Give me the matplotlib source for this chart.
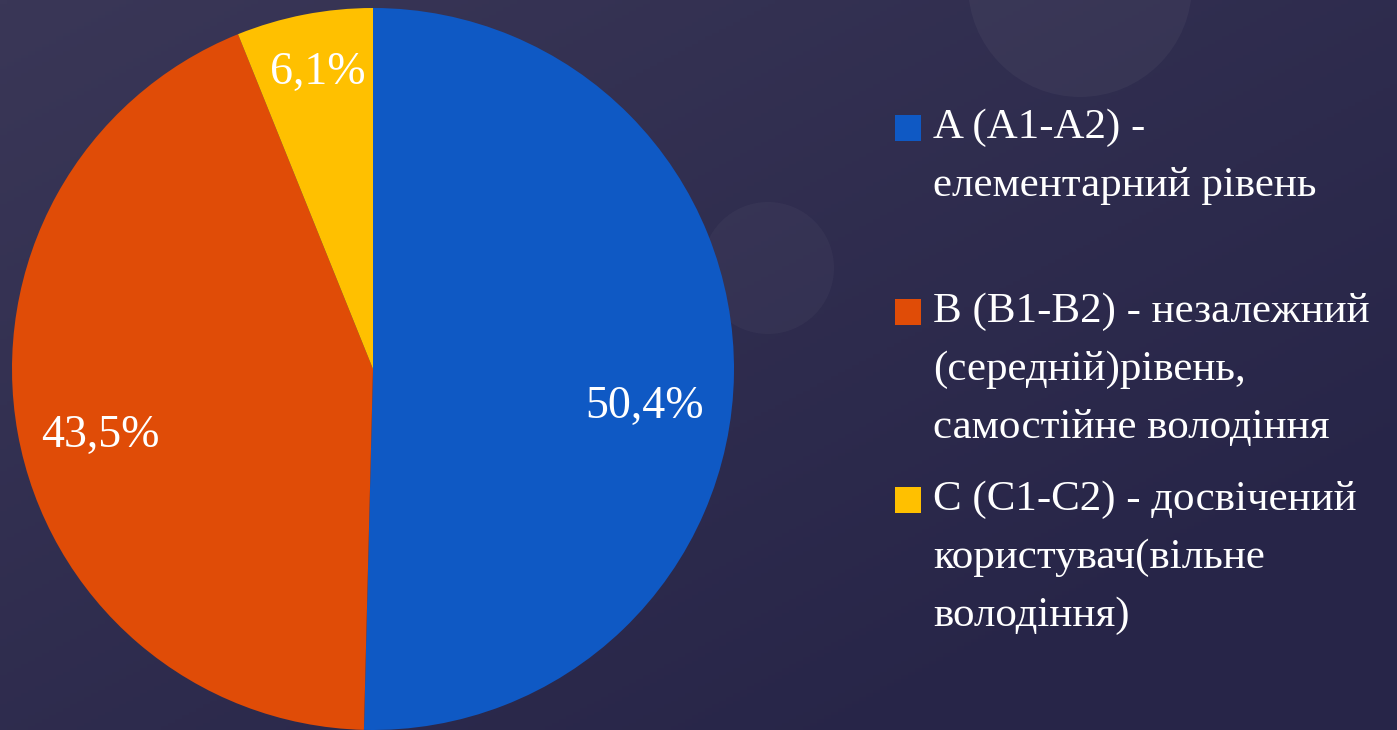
import numpy as np
import matplotlib.pyplot as plt
from matplotlib.patches import Circle, Rectangle

# data
labels = ["A (A1-A2) -\nелементарний рівень",
          "B (B1-B2) - незалежний\n(середній)рівень,\nсамостійне володіння",
          "C (C1-C2) - досвічений\nкористувач(вільне\nволодіння)"]
values = [50.4, 43.5, 6.1]
pct_text = ["50,4%", "43,5%", "6,1%"]
colors = ["#0f59c4", "#e04c07", "#ffc000"]

plt.rcParams['font.family'] = ['Liberation Serif', 'DejaVu Serif']

W, H = 1397, 730
fig = plt.figure(figsize=(W / 100, H / 100), dpi=100)

# background with soft gradient
bg = fig.add_axes([0, 0, 1, 1])
yy, xx = np.mgrid[0:1:200j, 0:1:200j]
t = np.clip(0.6 * xx + 0.6 * yy, 0, 1)
c0 = np.array([0x3a, 0x37, 0x57]) / 255
c1 = np.array([0x27, 0x25, 0x48]) / 255
img = c0[None, None, :] * (1 - t[..., None]) + c1[None, None, :] * t[..., None]
bg.imshow(img, extent=[0, W, H, 0], aspect='auto')
bg.add_patch(Circle((1080, -15), 112, color='white', alpha=0.04, lw=0))
bg.add_patch(Circle((768, 268), 66, color='white', alpha=0.03, lw=0))
bg.set_xlim(0, W)
bg.set_ylim(H, 0)
bg.axis('off')

# pie
R = 361
cx, cy = 373, 369
ax = fig.add_axes([(cx - R) / W, (H - cy - R) / H, 2 * R / W, 2 * R / H])
wedges, _ = ax.pie(values, colors=colors, startangle=90, counterclock=False,
                   radius=1, wedgeprops=dict(linewidth=0))
ax.set_xlim(-1, 1)
ax.set_ylim(-1, 1)
ax.set_aspect('auto')
ax.axis('off')

label_pos = [(0.753, -0.105), (-0.756, -0.185), (-0.152, 0.82)]
for (x, y), s in zip(label_pos, pct_text):
    ax.text(x, y, s, color='white', fontsize=33, ha='center', va='center')

# legend drawn manually
item_tops = [128, 312, 500]
line_h = 58
for top, lab, col in zip(item_tops, labels, colors):
    bg.add_patch(Rectangle((895, top - 13), 26, 26, color=col, lw=0))
    for i, line in enumerate(lab.split("\n")):
        bg.text(933, top + i * line_h, line, color='white', fontsize=31,
                ha='left', va='center')

fig.savefig("out.png", dpi=100, facecolor=fig.get_facecolor())
